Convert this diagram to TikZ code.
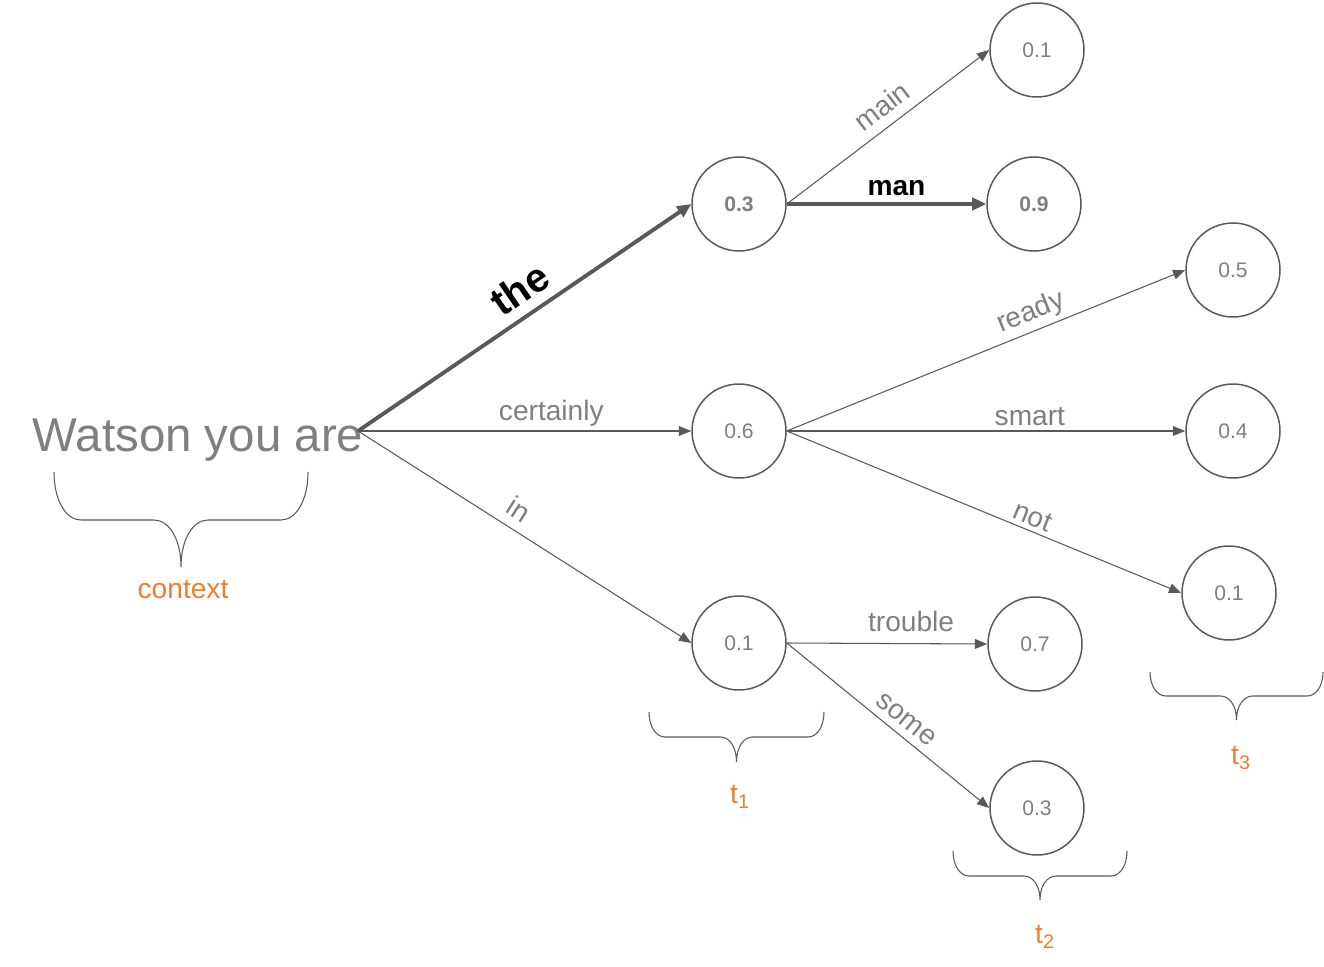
\documentclass[tikz,border=0pt]{standalone}
\usepackage{fontspec}
\setmainfont{Liberation Sans}
\usetikzlibrary{positioning, arrows.meta}
\definecolor{edgegray}{HTML}{595959}
\definecolor{labelgray}{HTML}{7F7F7F}
\definecolor{steporange}{HTML}{ED7D31}
\tikzstyle{prob} = [
    circle, draw=edgegray, line width=0.85pt,
    minimum size=1.88cm, inner sep=0pt, % same size for every state
    text=labelgray, font=\fontsize{12}{14}\selectfont
]
\tikzstyle{word} = [
    text=labelgray, font=\fontsize{16}{18}\selectfont,
    sloped, above, inner sep=2.5pt
]
\tikzstyle{chosen} = [
    word, text=black, font=\bfseries\fontsize{16}{18}\selectfont
]
\tikzstyle{link} = [draw=edgegray, line width=0.6pt, -{Triangle[length=7pt,width=5.5pt]}]
\tikzstyle{best} = [draw=edgegray, line width=2.2pt, -{Triangle[length=8pt,width=7pt]}]
\tikzstyle{timestep} = [text=steporange, font=\fontsize{16}{18}\selectfont]
% curly brace under a group: x1, x2, top, middle, tip, corner
\newcommand{\stepbrace}[6]{
    \draw[edgegray, line width=0.6pt] (#1,#3)
        .. controls (#1,{#3+0.6*(#4-#3)}) and ({#1+0.45*#6},#4) .. ({#1+#6},#4)
        -- ({(#1+#2)/2-#6},#4)
        .. controls ({(#1+#2)/2-0.45*#6},#4) and ({(#1+#2)/2},{#4+0.4*(#5-#4)}) .. ({(#1+#2)/2},#5)
        .. controls ({(#1+#2)/2},{#4+0.4*(#5-#4)}) and ({(#1+#2)/2+0.45*#6},#4) .. ({(#1+#2)/2+#6},#4)
        -- ({#2-#6},#4)
        .. controls ({#2-0.45*#6},#4) and (#2,{#3+0.6*(#4-#3)}) .. (#2,#3);
}
\begin{document}
\begin{tikzpicture}[x=0.02cm, y=-0.02cm]
        \useasboundingbox (0,0) rectangle (1324,966);

        % Context
        \node[text=labelgray, font=\fontsize{27}{30}\selectfont, anchor=base] (ctx) at (198,451) {Watson you are};
        \coordinate (src) at (358,431);

        % First step
        \node[prob] (the) at (739,204) {\textbf{0.3}};
        \node[prob] (certainly) at (739,431) {0.6};
        \node[prob] (in) at (739,643) {0.1};

        % Second step
        \node[prob] (main) at (1037,50) {0.1};
        \node[prob] (man) at (1034,204) {\textbf{0.9}};
        \node[prob] (trouble) at (1035,644) {0.7};
        \node[prob] (some) at (1037,808) {0.3};

        % Third step
        \node[prob] (ready) at (1233,270) {0.5};
        \node[prob] (smart) at (1233,431) {0.4};
        \node[prob] (not) at (1229,593) {0.1};

        % Edges from the context
        \draw[best] (src) -- node[chosen, pos=0.53, yshift=3pt, font=\bfseries\fontsize{23}{26}\selectfont] {the} (the.west);
        \draw[link] (src) -- node[word, pos=0.58] {certainly} (certainly.west);
        \draw[link] (src) -- node[word, pos=0.45, yshift=3pt] {in} (in.west);

        % Edges from 0.3
        \draw[link] (the.east) -- node[word, pos=0.53, yshift=3pt] {main} (main.west);
        \draw[best] (the.east) -- node[chosen, pos=0.55, yshift=1pt] {man} (man.west);

        % Edges from 0.6
        \draw[link] (certainly.east) -- node[word, pos=0.63] {ready} (ready.west);
        \draw[link] (certainly.east) -- node[word, pos=0.61] {smart} (smart.west);
        \draw[link] (certainly.east) -- node[word, pos=0.61] {not} (not.west);

        % Edges from 0.1
        \draw[link] (in.east) -- node[word, pos=0.62, yshift=4pt] {trouble} (trouble.west);
        \draw[link] (in.east) -- node[word, pos=0.54, yshift=2pt] {some} (some.west);

        % Braces and their labels
        \stepbrace{54}{308}{472}{520}{567}{27}
        \node[timestep] (context) at (183,590) {context};
        \stepbrace{649}{824}{712}{737}{762}{16}
        \node[timestep] (t1) at (740,797) {t\textsubscript{1}};
        \stepbrace{953}{1127}{851}{876}{900}{16}
        \node[timestep] (t2) at (1045,937) {t\textsubscript{2}};
        \stepbrace{1150}{1323}{672}{696}{720}{16}
        \node[timestep] (t3) at (1241,758) {t\textsubscript{3}};

    \end{tikzpicture}
\end{document}
